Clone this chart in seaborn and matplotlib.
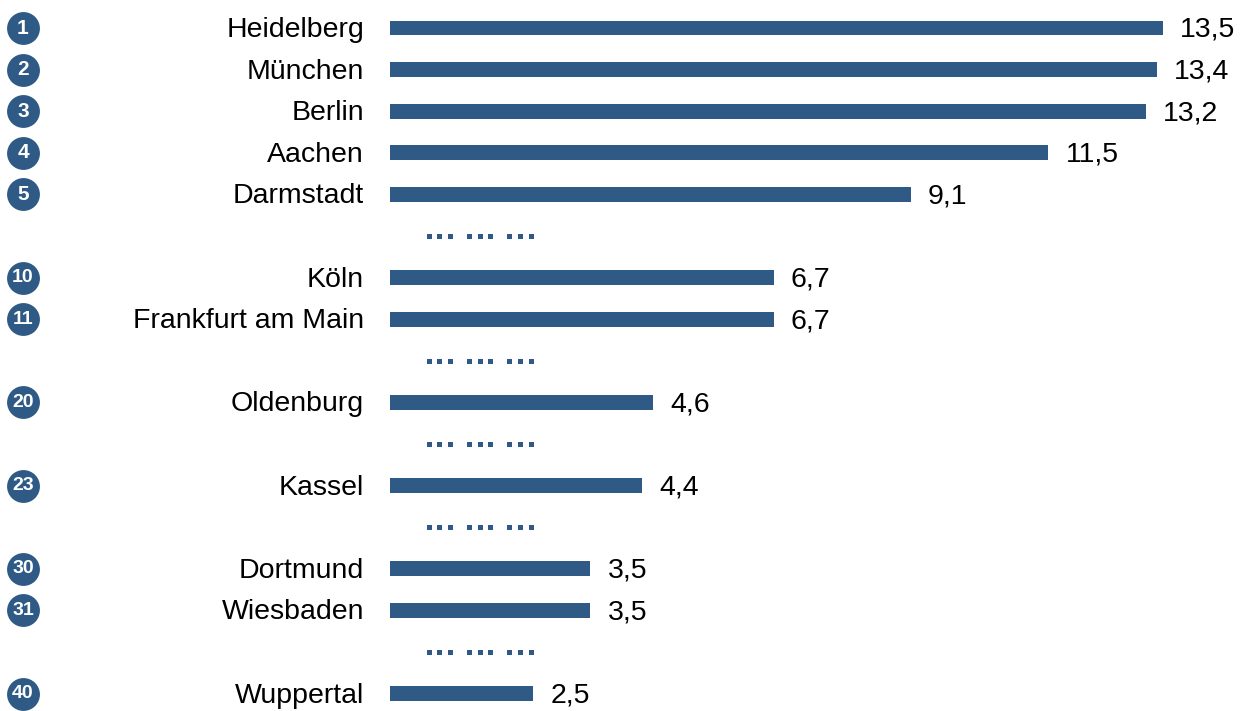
import numpy as np
import pandas as pd
import matplotlib
matplotlib.use("Agg")
import matplotlib.pyplot as plt
import seaborn as sns

# ranking data
ranks = [1, 2, 3, 4, 5, 10, 11, 20, 23, 30, 31, 40]
cities = ["Heidelberg", "München", "Berlin", "Aachen", "Darmstadt", "Köln",
          "Frankfurt am Main", "Oldenburg", "Kassel", "Dortmund", "Wiesbaden", "Wuppertal"]
values = [13.5, 13.4, 13.2, 11.5, 9.1, 6.7, 6.7, 4.6, 4.4, 3.5, 3.5, 2.5]

BLUE = "#2E5A85"

# row slot for each city, one empty row where ranks jump
slots, gaps = [], []
s, prev = -1, None
for r in ranks:
    if prev is not None and r != prev + 1:
        s += 1
        gaps.append(s)
    s += 1
    slots.append(s)
    prev = r

df = pd.DataFrame({"rank": ranks, "city": cities, "value": values, "slot": slots})

sns.set_style("white")
plt.rcParams["font.family"] = ["Liberation Sans", "DejaVu Sans"]

fig = plt.figure(figsize=(12.45, 7.11), dpi=100)
ax = fig.add_axes([0, 0, 1, 1])

sns.barplot(data=df, x="value", y="slot", orient="h", native_scale=True,
            color=BLUE, width=0.36, linewidth=0, saturation=1, ax=ax)

# px -> data mapping: bar start at 390px, 57.26 px per unit
ax.set_xlim(-390 / 57.26, (1245 - 390) / 57.26)
ax.set_ylim((711 - 28) / 41.6, -28 / 41.6)
ax.axis("off")

circle_x = (23 - 390) / 57.26
for _, row in df.iterrows():
    ax.annotate(row["city"], (0, row["slot"]), xytext=(-26, -2), textcoords="offset pixels",
                ha="right", va="center", fontsize=20.5, color="black")
    ax.annotate(f"{row['value']:.1f}".replace(".", ","), (row["value"], row["slot"]),
                xytext=(17, -2), textcoords="offset pixels",
                ha="left", va="center", fontsize=20.5, color="black")
    ax.scatter([circle_x], [row["slot"]], s=560, color=BLUE, linewidths=0, zorder=3)
    fs = 15 if row["rank"] < 10 else 14
    ax.text(circle_x, row["slot"], str(row["rank"]), ha="center", va="center",
            fontsize=fs, fontweight="bold", color="white", zorder=4)

# "... ... ..." markers in the gap rows
dot_x = []
for g in range(3):
    for d in range(3):
        dot_x.append((428.7 + g * 40.3 + d * 10.6 - 390) / 57.26)
for g in gaps:
    ax.plot(dot_x, [g] * len(dot_x), "s", color=BLUE, markersize=3.6, markeredgewidth=0)

fig.savefig("out.png", dpi=100)
